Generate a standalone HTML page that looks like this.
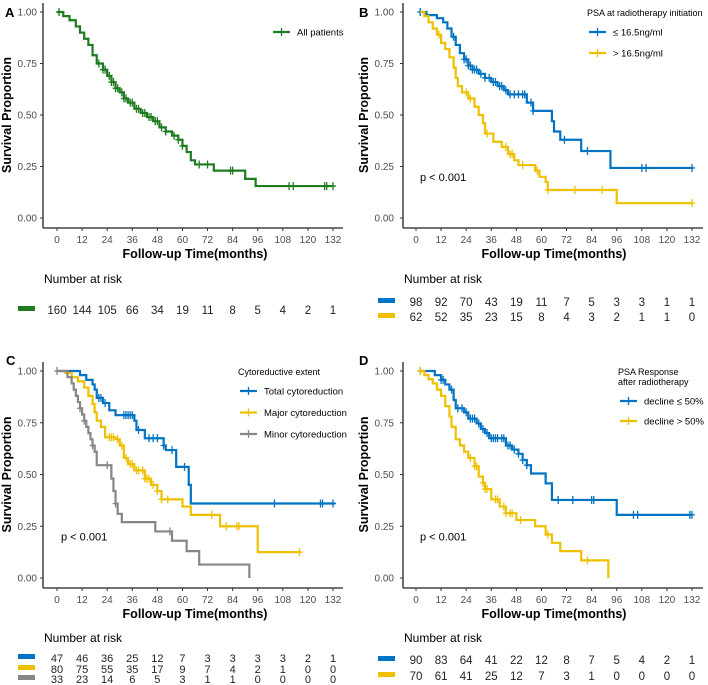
<!DOCTYPE html>
<html><head><meta charset="utf-8">
<style>
html,body{margin:0;padding:0;background:#fff;}
svg{display:block;font-family:"Liberation Sans",sans-serif;}
</style></head>
<body>
<svg id="chart" width="708" height="685" viewBox="0 0 708 685" xmlns="http://www.w3.org/2000/svg"></svg>
<script>
// ---------- data ----------
const xTicks = [0,12,24,36,48,60,72,84,96,108,120,132];
const yTicks = [0,0.25,0.5,0.75,1];
const yTickLabels = ["0.00","0.25","0.50","0.75","1.00"];

// Panel A
const aTimes = [3,6,9,11,13,15,17,19,22,24,26,28,30,32,34,37,40,43,46,49,52,55,58,60,62,64,66,75,90,95];
const aSurv  = [0.98,0.96,0.93,0.90,0.87,0.84,0.79,0.75,0.72,0.69,0.66,0.63,0.61,0.58,0.56,0.53,0.51,0.49,0.47,0.44,0.42,0.40,0.38,0.35,0.32,0.28,0.26,0.23,0.19,0.155];
const aCens  = [1,20,22,23,25,26,27,28,29,31,32,33,35,36,38,39,41,42,44,45,47,48,50,52,56,58,60,68,72,83,84,111,113,128,129,132];
const aEnd = 132;
const aRisk = [160,144,105,66,34,19,11,8,5,4,2,1];

// Panel B
const bBlueTimes = [5,10,13,15,17,19,21,23,25,27,30,33,36,39,42,44,53,56,65,66,69,79,93];
const bBlueSurv  = [0.985,0.97,0.95,0.92,0.88,0.84,0.80,0.77,0.74,0.72,0.70,0.68,0.66,0.64,0.62,0.60,0.56,0.52,0.47,0.42,0.38,0.325,0.243];
const bBlueCens  = [2,18,23,24,25,26,27,28,29,31,33,35,37,38,40,41,43,45,47,49,51,52,55,56,71,82,108,110,132];
const bYelTimes = [4,6,8,10,12,14,16,18,19,20,22,25,28,30,32,33,37,41,44,47,49,57,59,62,63,96];
const bYelSurv  = [0.98,0.95,0.92,0.89,0.85,0.82,0.78,0.73,0.68,0.64,0.61,0.58,0.54,0.50,0.46,0.41,0.37,0.345,0.31,0.28,0.257,0.23,0.20,0.175,0.136,0.072];
const bYelCens  = [11,24,26,34,43,45,46,51,58,63,76,89,132];
const bBlueRisk = [98,92,70,43,19,11,7,5,3,3,1,1];
const bYelRisk  = [62,52,35,23,15,8,4,3,2,1,1,0];

// Panel C
const cBlueTimes = [11,14,17,18,19,22,25,28,37,38,42,51,52,57,63,64];
const cBlueSurv  = [0.98,0.957,0.935,0.91,0.87,0.845,0.81,0.787,0.76,0.715,0.675,0.64,0.618,0.537,0.45,0.36];
const cBlueCens  = [20,21,23,32,33,34,35,36,39,44,46,48,51,55,61,104,126,127,132];
const cYelTimes = [4,7,10,13,15,17,18,19,21,23,28,30,32,34,37,42,45,48,50,60,64,78,96];
const cYelSurv  = [0.99,0.97,0.95,0.92,0.88,0.84,0.80,0.76,0.73,0.68,0.67,0.64,0.58,0.55,0.52,0.48,0.45,0.42,0.38,0.345,0.305,0.25,0.125];
const cYelCens  = [25,26,27,29,31,33,35,36,38,39,41,42,43,44,46,48,50,53,74,81,86,87,116];
const cGreyTimes = [5,7,8,9,10,11,12,13,14,15,16,17,18,19,26,27,28,29,31,47,55,62,68,92];
const cGreySurv  = [0.97,0.94,0.91,0.88,0.85,0.82,0.79,0.76,0.73,0.70,0.67,0.64,0.61,0.545,0.48,0.42,0.36,0.31,0.27,0.225,0.18,0.13,0.065,0];
const cGreyCens  = [0,11,13,17,24,28,54];
const cBlueRisk = [47,46,36,25,12,7,3,3,3,3,2,1];
const cYelRisk  = [80,75,55,35,17,9,7,4,2,1,0,0];
const cGreyRisk = [33,23,14,6,5,3,1,1,0,0,0,0];

// Panel D
const dBlueTimes = [9,12,14,16,18,19,23,25,29,31,33,35,43,46,49,51,53,55,62,65,96];
const dBlueSurv  = [0.98,0.957,0.935,0.91,0.86,0.82,0.80,0.77,0.747,0.72,0.70,0.675,0.64,0.62,0.60,0.57,0.545,0.505,0.457,0.377,0.305];
const dBlueCens  = [2,12,13,17,20,22,24,26,27,28,30,32,34,36,37,38,39,41,42,44,45,47,49,51,53,68,75,84,85,104,106,131,132];
const dYelTimes = [4,6,8,10,12,14,16,17,19,21,23,25,28,30,32,33,36,40,43,48,57,62,65,69,79,92];
const dYelSurv  = [0.98,0.96,0.94,0.91,0.88,0.83,0.78,0.73,0.67,0.64,0.61,0.58,0.54,0.49,0.46,0.43,0.38,0.345,0.313,0.28,0.25,0.21,0.17,0.13,0.085,0];
const dYelCens  = [2,26,28,29,32,33,34,38,39,42,43,45,46,50,63,82];
const dBlueRisk = [90,83,64,41,22,12,8,7,5,4,2,1];
const dYelRisk  = [70,61,41,25,12,7,3,1,0,0,0,0];

// ---------- drawing ----------
const NS = "http://www.w3.org/2000/svg";
const svg = document.getElementById("chart");
const GREEN="#1E7B1E", BLUE="#0073C2", YEL="#EFC000", GREY="#868686";
function mk(tag, attrs, parent, text){
  const e = document.createElementNS(NS, tag);
  for (const k in attrs) e.setAttribute(k, attrs[k]);
  if (text !== undefined) e.textContent = text;
  (parent||svg).appendChild(e);
  return e;
}
function survAt(times, surv, t){
  let s = 1;
  for (let i=0;i<times.length;i++){ if (times[i] <= t) s = surv[i]; }
  return s;
}

function panel(cfg){
  const g = mk("g", {});
  
  
  const xs = t => cfg.x0 + t * 276/132;
  const ys = s => cfg.y0 - s * (cfg.y0 - cfg.y1);
  const lt = mk("text",{x:cfg.letterX,y:cfg.letterY,"font-size":13,"font-weight":"bold",fill:"#000"},g,cfg.letter);
  
  
  const axisY = cfg.y0 + 10;
  const ya = mk("line",{x1:cfg.ax,y1:cfg.y1-9,x2:cfg.ax,y2:axisY,stroke:"#222","stroke-width":1.3},g);
  
  
  const xa = mk("line",{x1:cfg.ax,y1:axisY,x2:cfg.ax+300,y2:axisY,stroke:"#222","stroke-width":1.3},g);
  
  
  yTicks.forEach((v,i)=>{
    const y = ys(v);
    mk("line",{x1:cfg.ax-3,y1:y,x2:cfg.ax,y2:y,stroke:"#333","stroke-width":1},g);
    const tl = mk("text",{x:cfg.ax-cfg.labGap,y:y+3.5,"font-size":10,fill:"#4d4d4d","text-anchor":"end"},g,yTickLabels[i]);
    
    
  });
  xTicks.forEach(v=>{
    const x = xs(v);
    mk("line",{x1:x,y1:axisY,x2:x,y2:axisY+3,stroke:"#333","stroke-width":1},g);
    const tl = mk("text",{x:x,y:axisY+15,"font-size":10,fill:"#4d4d4d","text-anchor":"middle"},g,String(v));
    
    
  });
  const xt = mk("text",{x:xs(66),y:axisY+30,"font-size":12.5,"font-weight":"bold",fill:"#000","text-anchor":"middle"},g,"Follow-up Time(months)");
  
  
  const ymid = (cfg.y0+cfg.y1)/2;
  const tx = cfg.titleX;
  const yt = mk("text",{x:tx,y:ymid,"font-size":12.5,"font-weight":"bold",fill:"#000","text-anchor":"middle",transform:`rotate(-90 ${tx} ${ymid})`},g,"Survival Proportion");
  
  
  cfg.series.forEach(s=>{
    let d = `M${xs(s.start)},${ys(1)}`;
    s.times.forEach((t,i)=>{ d += `H${xs(t)}V${ys(s.surv[i])}`; });
    const last = s.times[s.times.length-1];
    if (s.end > last) d += `H${xs(s.end)}`;
    const p = mk("path",{d:d,fill:"none",stroke:s.color,"stroke-width":2.2},g);
    
    
    s.cens.forEach(t=>{
      const x = xs(t), y = ys(survAt(s.times,s.surv,t));
      const c = mk("path",{d:`M${x},${y-4}V${y+4}M${x-3},${y}H${x+3}`,stroke:s.color,"stroke-width":1.3,fill:"none"},g);
      
      
    });
  });
  if (cfg.p){
    const pt = mk("text",{x:cfg.x0+4,y:ys(0.2)+4,"font-size":11,fill:"#000"},g,"p < 0.001");
    
    
  }
  let ly = cfg.legY;
  cfg.legTitle.forEach((tt,i)=>{
    const t = mk("text",{x:cfg.legX-2,y:cfg.legTitleY+i*10,"font-size":9,fill:"#000"},g,tt);
    
    
  });
  cfg.series.forEach(s=>{
    const lg = mk("g",{},g);
    
    
    mk("line",{x1:cfg.legX,y1:ly,x2:cfg.legX+17,y2:ly,stroke:s.color,"stroke-width":2.2},lg);
    mk("line",{x1:cfg.legX+8.5,y1:ly-4,x2:cfg.legX+8.5,y2:ly+4,stroke:s.color,"stroke-width":1.3},lg);
    mk("text",{x:cfg.legX+24,y:ly+3.5,"font-size":9.5,fill:"#000"},lg,s.label);
    ly += cfg.legStep;
  });
  const rt = mk("text",{x:cfg.ax+1,y:cfg.riskTitleY,"font-size":12,fill:"#000"},g,"Number at risk");
  
  
  cfg.series.forEach((s,k)=>{
    const by = cfg.riskY[k];
    const sw = mk("rect",{x:cfg.ax-25,y:by-8,width:17,height:5,fill:s.color},g);
    
    
    s.risk.forEach((v,i)=>{
      const rv = mk("text",{x:xs(xTicks[i]),y:by,"font-size":cfg.riskFont,fill:"#222","text-anchor":"middle"},g,String(v));
      
      
    });
  });
}

panel({name:"panel-a",letter:"A",letterX:5,letterY:17,titleX:11,labGap:6,x0:57,ax:43,y1:12,y0:218,p:false,
  legX:273,legY:32,legStep:21,legTitle:[],legTitleY:0,
  riskTitleY:283,riskY:[314],riskFont:11.5,
  series:[{key:"all-patients",label:"All patients",color:GREEN,start:0,times:aTimes,surv:aSurv,cens:aCens,end:aEnd,risk:aRisk}]});

panel({name:"panel-b",letter:"B",letterX:359,letterY:17,titleX:368,labGap:9,x0:416,ax:403,y1:12,y0:218,p:true,
  legX:589,legY:32,legStep:21,legTitle:["PSA at radiotherapy initiation"],legTitleY:16,
  riskTitleY:283,riskY:[306,321],riskFont:11.5,
  series:[{key:"psa-low",label:"≤ 16.5ng/ml",color:BLUE,start:2,times:bBlueTimes,surv:bBlueSurv,cens:bBlueCens,end:132,risk:bBlueRisk},
          {key:"psa-high",label:"> 16.5ng/ml",color:YEL,start:2,times:bYelTimes,surv:bYelSurv,cens:bYelCens,end:132,risk:bYelRisk}]});

panel({name:"panel-c",letter:"C",letterX:6,letterY:365,titleX:11,labGap:6,x0:57,ax:43,y1:371,y0:578,p:true,
  legX:240,legY:391,legStep:21.5,legTitle:["Cytoreductive extent"],legTitleY:375,
  riskTitleY:642,riskY:[662,673,683],riskFont:11,
  series:[{key:"total-cytoreduction",label:"Total cytoreduction",color:BLUE,start:0,times:cBlueTimes,surv:cBlueSurv,cens:cBlueCens,end:133,risk:cBlueRisk},
          {key:"major-cytoreduction",label:"Major cytoreduction",color:YEL,start:2,times:cYelTimes,surv:cYelSurv,cens:cYelCens,end:116,risk:cYelRisk},
          {key:"minor-cytoreduction",label:"Minor cytoreduction",color:GREY,start:0,times:cGreyTimes,surv:cGreySurv,cens:cGreyCens,end:92,risk:cGreyRisk}]});

panel({name:"panel-d",letter:"D",letterX:359,letterY:365,titleX:368,labGap:9,x0:416,ax:403,y1:371,y0:578,p:true,
  legX:620,legY:401,legStep:20,legTitle:["PSA Response","after radiotherapy"],legTitleY:375,
  riskTitleY:642,riskY:[664,680],riskFont:11.5,
  series:[{key:"decline-low",label:"decline ≤ 50%",color:BLUE,start:2,times:dBlueTimes,surv:dBlueSurv,cens:dBlueCens,end:132,risk:dBlueRisk},
          {key:"decline-high",label:"decline > 50%",color:YEL,start:2,times:dYelTimes,surv:dYelSurv,cens:dYelCens,end:92,risk:dYelRisk}]});
</script>
</body></html>
